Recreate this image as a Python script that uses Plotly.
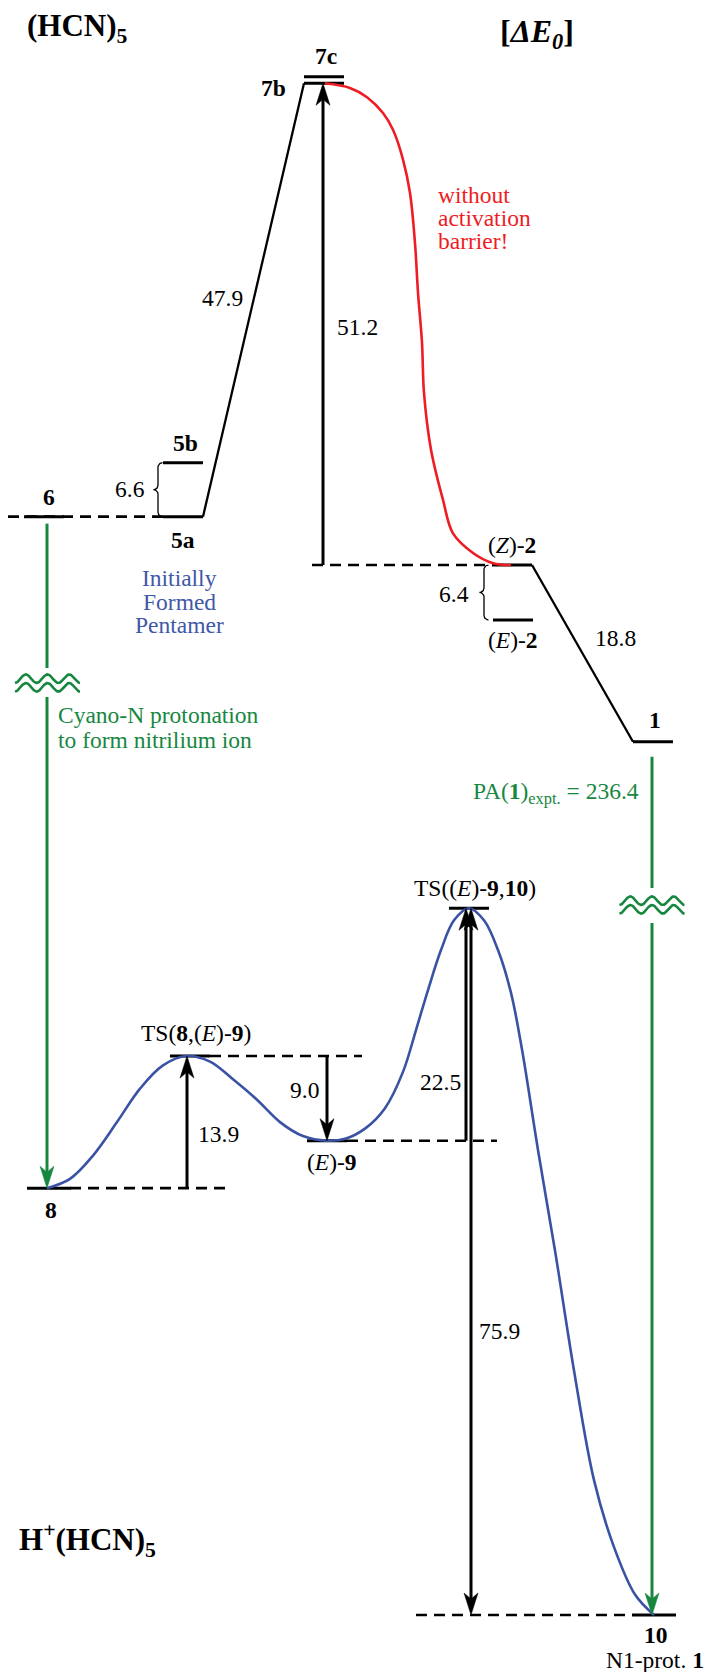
import numpy as np
import plotly.graph_objects as go

# ------------------------------------------------------------------
# Values
# ------------------------------------------------------------------
# neutral (HCN)5 surface: name, reaction-coordinate position, diagram level
up_names = ["6", "5a", "5b", "7b", "7c", "(Z)-2", "(E)-2", "1"]
up_pos = [44, 183, 183, 324, 324, 512, 513, 653]
up_level = [118.1, 118.1, 123.9, 164.7, 165.4, 112.9, 107.0, 93.9]

# protonated H+(HCN)5 surface
lo_names = ["8", "TS(8,(E)-9)", "(E)-9", "TS((E)-9,10)", "10"]
lo_pos = [49, 190, 327, 469, 654]
lo_level = [45.9, 60.1, 51.0, 76.0, 0.0]

# energy differences printed on the diagram
gap_value = [6.6, 47.9, 51.2, 6.4, 18.8, 13.9, 9.0, 22.5, 75.9]
pa_expt = 236.4

# red path 7b -> (Z)-2 (no activation barrier)
red_x = [325, 350, 367, 383, 393, 403, 410, 415, 418, 422, 424, 431, 443, 453, 473, 493, 511]
red_y = [164.7, 164.2, 163.2, 161.5, 159.7, 156.5, 152.9, 147.5, 142.2, 136.8, 131.4,
         125.3, 119.9, 116.3, 114.2, 113.1, 112.9]

# blue path 8 -> TS -> (E)-9 -> TS -> 10
blue_x = [47, 70, 93, 117, 140, 163, 187, 210, 233, 257, 280, 303, 327, 345, 365, 385,
          403, 416, 428, 441, 454, 469, 484, 498, 511, 522, 538, 555, 574, 594, 614,
          635, 654]
blue_y = [45.9, 46.9, 49.4, 53.0, 56.6, 59.1, 60.1, 59.5, 57.6, 55.4, 53.0, 51.5, 51.0,
          51.2, 52.3, 54.5, 58.4, 62.9, 67.2, 71.5, 74.7, 76.0, 74.7, 71.5, 66.9, 60.8,
          50.0, 39.2, 26.3, 14.5, 7.3, 2.2, 0.0]

# ------------------------------------------------------------------
FONT = "Liberation Serif, Times New Roman, Times, serif"
FS = 23.5
BLACK = "black"
RED = "#ee1d24"
GREEN = "#17873f"
BLUE = "#3a52a3"
TBLUE = "#3f58a8"
PX = 9.3                     # pixels per diagram unit (vertical)
Y_TOP = 1615 / PX
Y_BOT = -57 / PX

lev = dict(zip(up_names + lo_names, up_level + lo_level))
pos = dict(zip(up_names + lo_names, up_pos + lo_pos))


def d(px):
    return px / PX


def at(p):
    """screen pixel row -> diagram level (for text placement)"""
    return (1615 - p) / PX


fig = go.Figure()


def line(xs, ys, color=BLACK, width=3.0, dash=None, shape="linear"):
    fig.add_trace(go.Scatter(x=list(xs), y=list(ys), mode="lines",
                             line=dict(color=color, width=width, dash=dash, shape=shape,
                                       smoothing=1.0),
                             hoverinfo="skip", showlegend=False))


def head(x, ytip, direction, color=BLACK, length=22, half=7, notch=6):
    # direction +1 = pointing up, -1 = pointing down
    yb = ytip - direction * d(length)
    yn = ytip - direction * d(length - notch)
    fig.add_trace(go.Scatter(x=[x, x - half, x, x + half, x],
                             y=[ytip, yb, yn, yb, ytip], mode="lines",
                             fill="toself", fillcolor=color,
                             line=dict(color=color, width=0.5),
                             hoverinfo="skip", showlegend=False))


def arrow(x, y_from, y_to, color=BLACK, width=3.0, both=False):
    direction = 1 if y_to > y_from else -1
    y_end = y_to - direction * d(14)
    y_start = y_from + direction * d(14) if both else y_from
    line([x, x], [y_start, y_end], color=color, width=width)
    head(x, y_to, direction, color)
    if both:
        head(x, y_from, -direction, color)


def brace(xb, y_top_level, y_bot_level, r=4.5):
    top = 1615 - y_top_level * PX
    bot = 1615 - y_bot_level * PX
    mid = (top + bot) / 2
    xs, ys = [], []

    def arc(cx, cy, a0, a1):
        t = np.radians(np.linspace(a0, a1, 12))
        xs.extend(cx + r * np.cos(t))
        ys.extend(cy + r * np.sin(t))

    arc(xb + r, top + r, -90, -180)
    arc(xb - r, mid - r, 0, 90)
    arc(xb - r, mid + r, -90, 0)
    arc(xb + r, bot - r, 180, 90)
    line(xs, [at(v) for v in ys], width=1.3)


def wave(xc, yc_level):
    t = np.linspace(0, 3, 150)
    xs = xc - 32.5 + 65 * t / 3
    yc = 1615 - yc_level * PX
    for off in (-4.3, 4.3):
        ys = yc + off + 4.3 * np.cos(2 * np.pi * t)
        line(xs, [at(v) for v in ys], color=GREEN, width=2.6)


def label(x, y, text, size=FS, color=BLACK, yshift=0, xanchor="center", bold=False):
    fig.add_annotation(x=x, y=y, text=text, showarrow=False, xref="x", yref="y",
                       font=dict(family=FONT, size=size, color=color,
                                 weight="bold" if bold else "normal"),
                       xanchor=xanchor, yanchor="middle", yshift=yshift)


HW = 20
DASH = "11px,7px"

# ---------------- dashed guide lines ----------------
guides = [("5a", 8, pos["5a"] - HW), ("(Z)-2", 312, pos["(Z)-2"] - HW),
          ("TS(8,(E)-9)", pos["TS(8,(E)-9)"] + HW, 362), ("8", pos["8"] + 21, 231),
          ("(E)-9", pos["(E)-9"] + HW, 497), ("10", 416, pos["10"] - 22)]
for name, x0, x1 in guides:
    line([x0, x1], [lev[name], lev[name]], width=2.6, dash=DASH)

# ---------------- level bars ----------------
for name in up_names:
    line([pos[name] - HW, pos[name] + HW], [lev[name], lev[name]], width=3)
for name in lo_names:
    w = 22 if name in ("8", "10") else HW
    line([pos[name] - w, pos[name] + w], [lev[name], lev[name]], width=3)

# ---------------- connecting paths ----------------
line([pos["5a"] + HW, pos["7b"] - HW], [lev["5a"], lev["7b"]], width=2.3)
line([pos["(Z)-2"] + HW, pos["1"] - HW], [lev["(Z)-2"], lev["1"]], width=2.3)
line(red_x, red_y, color=RED, width=2.6, shape="spline")
line(blue_x, blue_y, color=BLUE, width=2.6, shape="spline")

# ---------------- braces ----------------
brace(pos["5b"] - HW - 5, lev["5b"], lev["5a"])
brace(pos["(E)-2"] - HW - 9, lev["(Z)-2"], lev["(E)-2"])

# ---------------- energy arrows ----------------
arrow(323, lev["(Z)-2"], lev["7b"])
arrow(187, lev["8"], lev["TS(8,(E)-9)"])
arrow(327, lev["TS(8,(E)-9)"], lev["(E)-9"])
arrow(466, lev["(E)-9"], lev["TS((E)-9,10)"])
arrow(471, lev["10"], lev["TS((E)-9,10)"], both=True)

# ---------------- protonation arrows (green, with axis break) ----------------
gx1, gx2 = 47, 652
brk1, brk2 = at(683), at(905)
line([gx1, gx1], [lev["6"] - d(7), brk1 + d(15)], color=GREEN, width=3)
line([gx1, gx1], [brk1 - d(14), lev["8"] + d(14)], color=GREEN, width=3)
head(gx1, lev["8"], -1, GREEN)
wave(gx1 + 0.5, brk1)
line([gx2, gx2], [lev["1"] - d(15), brk2 + d(17)], color=GREEN, width=3)
line([gx2, gx2], [brk2 - d(18), lev["10"] + d(14)], color=GREEN, width=3)
head(gx2, lev["10"], -1, GREEN)
wave(gx2, brk2)

# ---------------- species labels ----------------
label(49, lev["6"], "6", yshift=20, bold=True)
label(183, lev["5a"], "5a", yshift=-23, bold=True)
label(185, lev["5b"], "5b", yshift=20, bold=True)
label(288, lev["7b"], "7b", yshift=-5, xanchor="right", bold=True)
label(326, lev["7c"], "7c", yshift=21, bold=True)
label(512, lev["(Z)-2"], "(<i>Z</i>)-<b>2</b>", yshift=20)
label(513, lev["(E)-2"], "(<i>E</i>)-<b>2</b>", yshift=-20)
label(655, lev["1"], "1", yshift=22, bold=True)
label(51, lev["8"], "8", yshift=-22, bold=True)
label(196, lev["TS(8,(E)-9)"], "TS(<b>8</b>,(<i>E</i>)-<b>9</b>)", yshift=23)
label(332, lev["(E)-9"], "(<i>E</i>)-<b>9</b>", yshift=-21)
label(475, lev["TS((E)-9,10)"], "TS((<i>E</i>)-<b>9</b>,<b>10</b>)", yshift=20)
label(656, lev["10"], "10", yshift=-20, bold=True)
label(655, lev["10"], "N1-prot. <b>1</b>", yshift=-45)

# ---------------- energy values ----------------
gap_x = [130, 222, 357, 454, 615, 218, 304, 440, 499]
gap_row = [489, 298, 327, 594, 638, 1134, 1090, 1082, 1331]
for v, gx, gr in zip(gap_value, gap_x, gap_row):
    label(gx, at(gr), f"{v:.1f}")
label(641, at(793), f"PA(<b>1</b>)<sub>expt.</sub> = {pa_expt:.1f}", color=GREEN, xanchor="right")

# ---------------- free text ----------------
for txt, r in zip(["without", "activation", "barrier!"], [195, 218, 241]):
    label(436, at(r), txt, color=RED, xanchor="left")
for txt, r in zip(["Initially", "Formed", "Pentamer"], [578, 602, 625]):
    label(179, at(r), txt, color=TBLUE)
for txt, r in zip(["Cyano-N protonation", "to form nitrilium ion"], [715, 740]):
    label(56, at(r), txt, color=GREEN, xanchor="left")

label(25, at(28), "(HCN)<sub>5</sub>", size=31, xanchor="left", bold=True)
label(537, at(33), "[<i>ΔE</i><sub><i>0</i></sub>]", size=32, bold=True)
label(17, at(1540), "H<sup>+</sup>(HCN)<sub>5</sub>", size=31, xanchor="left", bold=True)

fig.update_layout(
    width=708, height=1672,
    margin=dict(l=0, r=0, t=0, b=0, pad=0),
    paper_bgcolor="white", plot_bgcolor="white",
    showlegend=False,
    font=dict(family=FONT),
    xaxis=dict(range=[0, 708], visible=False, fixedrange=True),
    yaxis=dict(range=[Y_BOT, Y_TOP], visible=False, fixedrange=True),
)

fig.write_html("out.html", config={"displayModeBar": False})
